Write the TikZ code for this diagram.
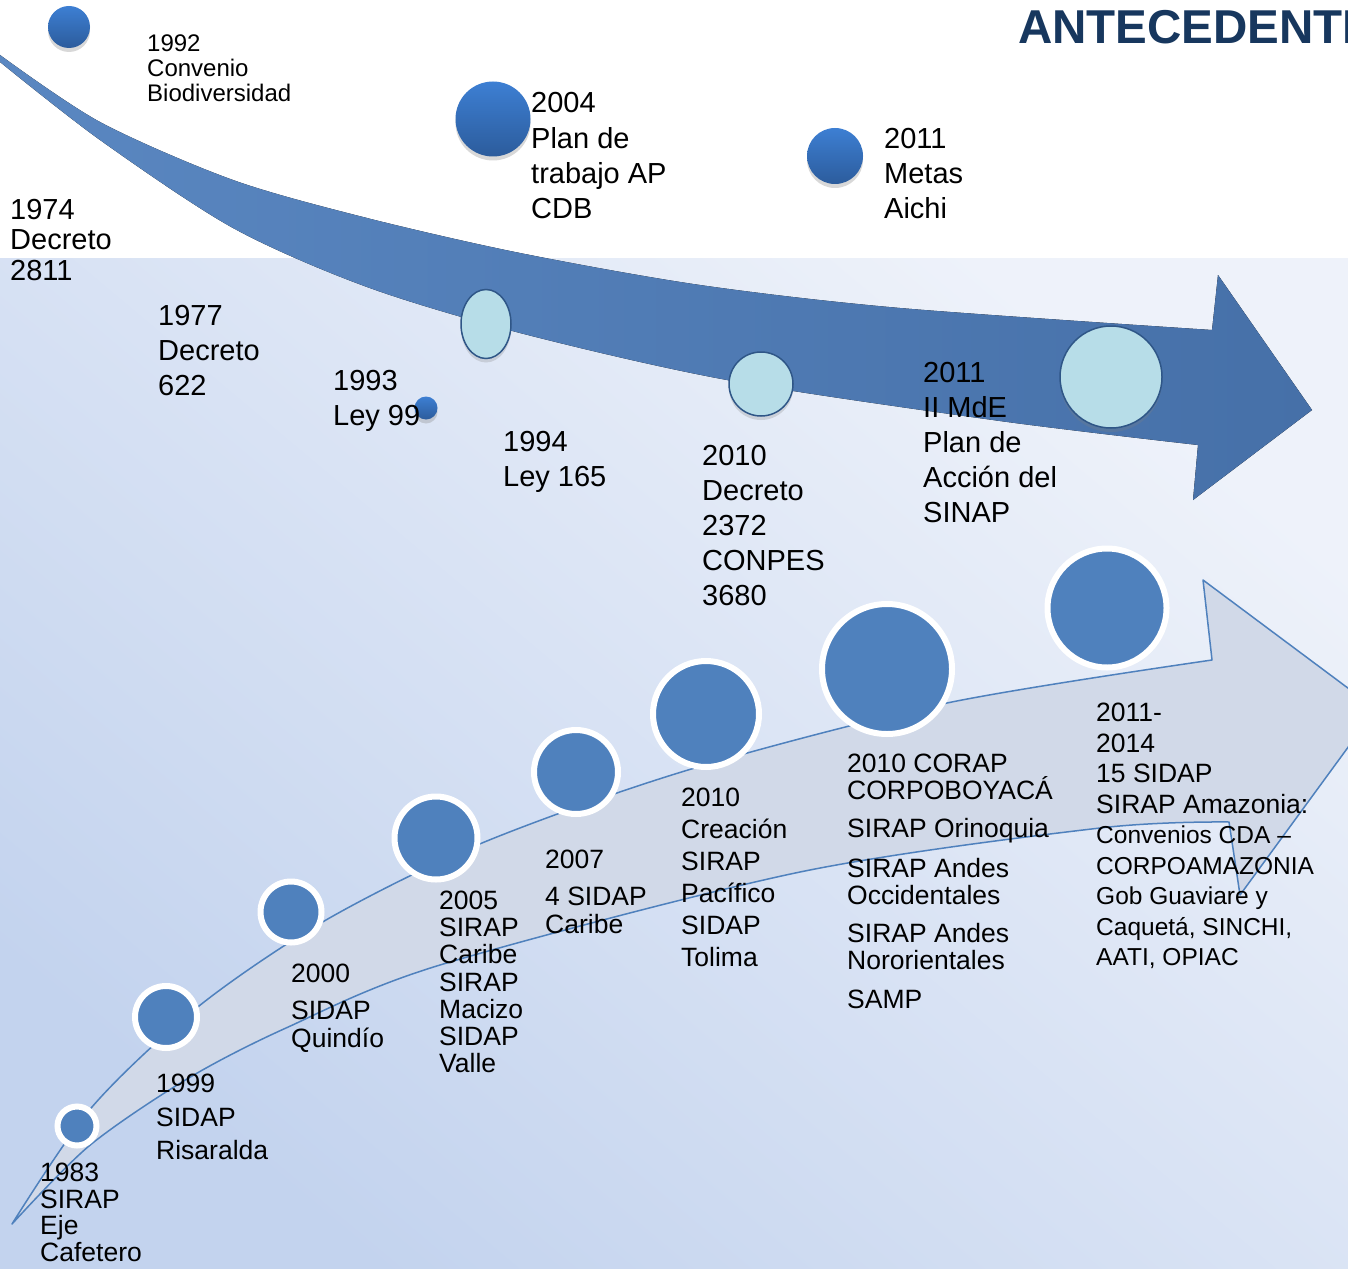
\documentclass[tikz,border=0pt]{standalone}
\usepackage{fontspec}
\setmainfont{Liberation Sans}
\usetikzlibrary{shapes.geometric,shadows}
\definecolor{titulo}{HTML}{17375E}
\definecolor{bandaA}{HTML}{5A87C1}
\definecolor{bandaB}{HTML}{4670A8}
\definecolor{hitoA}{HTML}{3D7FD3}
\definecolor{hitoB}{HTML}{2C5C9C}
\definecolor{claro}{HTML}{B7DDE8}
\definecolor{claroborde}{HTML}{2F5687}
\definecolor{bajo}{HTML}{4F81BD}
\definecolor{flecha}{HTML}{D1D9E8}
\definecolor{fondoA}{HTML}{EEF2FA}
\definecolor{fondoB}{HTML}{C3D3EE}
\newcommand{\chica}{\fontsize{24.5}{30.5}\selectfont}
\begin{document}
\begin{tikzpicture}[x=1pt,y=-1pt,
  txt/.style={anchor=base west,inner sep=0pt,align=left,font=\fontsize{29}{35}\selectfont},
  txtb/.style={anchor=base west,inner sep=0pt,align=left,font=\fontsize{26.5}{27}\selectfont},
  hito/.style={circle,inner sep=0pt,top color=hitoA,bottom color=hitoB,
    drop shadow={opacity=0.3,shadow xshift=0pt,shadow yshift=-4pt}},
  hitoclaro/.style={inner sep=0pt,fill=claro,draw=claroborde,line width=1.5pt,
    drop shadow={opacity=0.25,shadow xshift=0pt,shadow yshift=-4pt}},
  hitobajo/.style={circle,inner sep=0pt,fill=bajo,draw=white,line width=6pt}]
\useasboundingbox (0,0) rectangle (1348,1268);
\clip (0,0) rectangle (1348,1268);
% fondo
\fill[white] (0,0) rectangle (1348,258);
\shade[top color=fondoA,bottom color=fondoB,shading angle=-40] (0,258) rectangle (1348,1268);
\node[anchor=base west,inner sep=0pt,text=titulo,font=\fontsize{47.5}{50}\selectfont\bfseries] (titulo) at (1018,44) {ANTECEDENTES};
% flecha curva de arriba
\fill[left color=bandaA,right color=bandaB]
  plot[smooth] coordinates {(0,55) (100,122) (233,180) (367,218) (520,253) (700,285) (900,308) (1212,330)}
  -- (1218,275) -- (1312,410) -- (1193,500)
  -- plot[smooth] coordinates {(1198,445) (1000,421) (727,380) (520,333) (367,287) (233,228) (100,140) (0,62)}
  -- cycle;
% flecha de abajo
\filldraw[fill=flecha,draw=bajo,line width=1.5pt,line join=round]
  plot[smooth] coordinates {(12,1224) (92,1107) (199,1006) (326,920) (482,843) (688,770) (947,703) (1212,660)}
  -- (1203,580) -- (1376,709) -- (1240,895) -- (1229,822)
  -- plot[smooth] coordinates {(1229,822) (1100,828) (800,872) (440,965) (286,1028) (187,1079) (89,1146) (12,1224)}
  -- cycle;
% hitos de arriba
\node[hito,minimum size=42] (c1992) at (69,27) {};
\node[hito,minimum size=75] (c2004) at (493,119) {};
\node[hito,minimum size=56] (c2011) at (835,156) {};
\node[hito,minimum size=23] (c1993) at (426,408) {};
\node[hitoclaro,ellipse,minimum width=50,minimum height=69] (c1994) at (486,324) {};
\node[hitoclaro,circle,minimum size=64] (c2010) at (761,384) {};
\node[hitoclaro,circle,minimum size=102] (c2011b) at (1111,377) {};
% hitos de abajo
\node[hitobajo,minimum size=39] (b1983) at (77,1126) {};
\node[hitobajo,minimum size=62] (b1999) at (166,1017) {};
\node[hitobajo,minimum size=61] (b2000) at (291,912) {};
\node[hitobajo,minimum size=83] (b2005) at (436,838) {};
\node[hitobajo,minimum size=84] (b2007) at (576,772) {};
\node[hitobajo,minimum size=106] (b2010) at (706,714) {};
\node[hitobajo,minimum size=130] (b2010b) at (887,669) {};
\node[hitobajo,minimum size=119] (b2011) at (1107,608) {};
% textos de arriba (base = ultima linea)
\node[txt,font=\fontsize{24}{25}\selectfont] (t1992) at (147,101.6) {1992\\Convenio\\Biodiversidad};
\node[txt,font=\fontsize{29}{30.5}\selectfont] (t1974) at (10,280) {1974\\Decreto\\2811};
\node[txt] (t1977) at (158,395) {1977\\Decreto\\622};
\node[txt] (t1993) at (333,425) {1993\\Ley 99};
\node[txt] (t1994) at (503,486) {1994\\Ley 165};
\node[txt] (t2004) at (531,218) {2004\\Plan de\\trabajo AP\\CDB};
\node[txt] (t2011) at (884,218) {2011\\Metas\\Aichi};
\node[txt] (t2010) at (702,605) {2010\\Decreto\\2372\\CONPES\\3680};
\node[txt] (t2011b) at (923,522) {2011\\II MdE\\Plan de\\Acción del\\SINAP};
% textos de abajo
\node[txtb,font=\fontsize{26.5}{26.7}\selectfont] (s1983) at (40,1261.6) {1983\\SIRAP\\Eje\\Cafetero};
\node[txtb,font=\fontsize{26.5}{33.5}\selectfont] (s1999) at (156,1159.5) {1999\\SIDAP\\Risaralda};
\node[txtb,font=\fontsize{26.5}{28}\selectfont] (s2000) at (291,1047.5) {2000\\[9pt]SIDAP\\Quindío};
\node[txtb,font=\fontsize{26.5}{27.2}\selectfont] (s2005) at (439,1072.7) {2005\\SIRAP\\Caribe\\SIRAP\\Macizo\\SIDAP\\Valle};
\node[txtb,font=\fontsize{26.5}{28}\selectfont] (s2007) at (545,933.5) {2007\\[9pt]4 SIDAP\\Caribe};
\node[txtb,font=\fontsize{26.5}{32}\selectfont] (s2010) at (681,966.5) {2010\\Creación\\SIRAP\\Pacífico\\SIDAP\\Tolima};
\node[txtb] (s2010b) at (847,1008.5) {2010 CORAP\\CORPOBOYACÁ\\[11pt]SIRAP Orinoquia\\[13pt]SIRAP Andes\\Occidentales\\[11pt]SIRAP Andes\\Nororientales\\[12pt]SAMP};
\node[txtb,font=\fontsize{26.5}{30.5}\selectfont] (s2011) at (1096,965.5) {2011-\\2014\\15 SIDAP\\SIRAP Amazonia:\\\chica Convenios CDA –\\\chica CORPOAMAZONIA\\\chica Gob Guaviare y\\\chica Caquetá, SINCHI,\\\chica AATI, OPIAC};
\end{tikzpicture}
\end{document}
